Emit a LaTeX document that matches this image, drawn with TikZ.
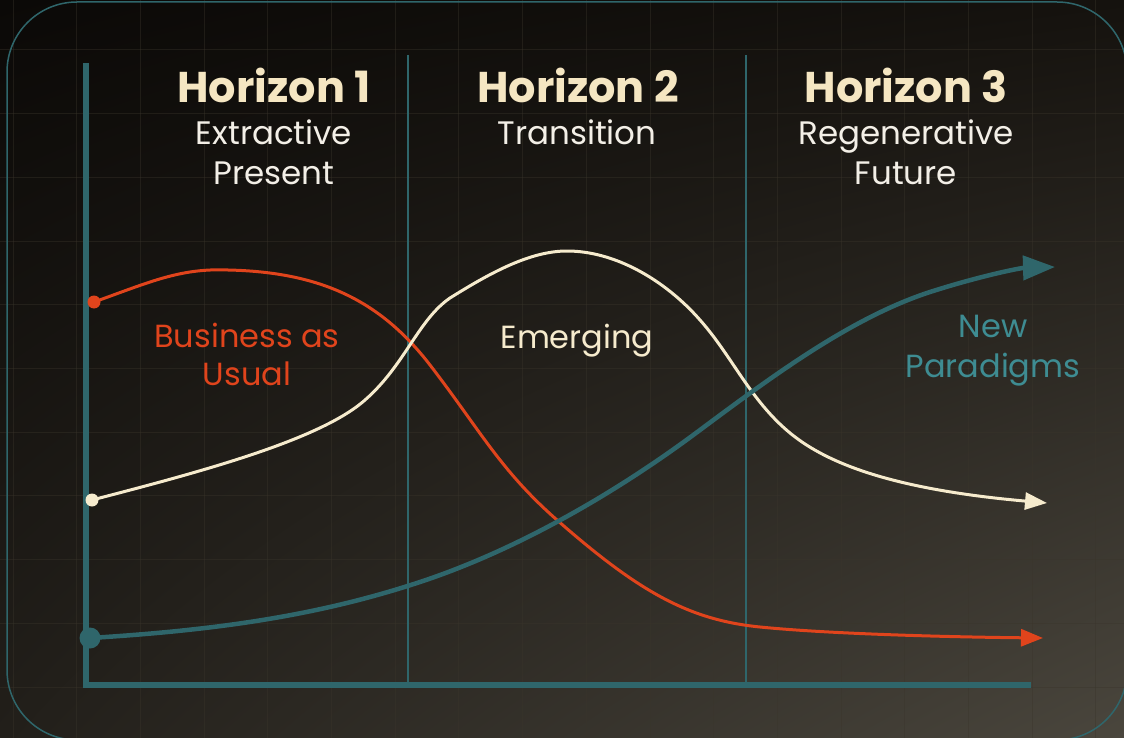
\documentclass[tikz,border=0pt]{standalone}
\usepackage{fontspec}
\setmainfont{Poppins}
\usetikzlibrary{arrows.meta,shadings}
\definecolor{bgUL}{HTML}{0B0907}
\definecolor{bgUR}{HTML}{15120E}
\definecolor{bgLL}{HTML}{221F1A}
\definecolor{bgLR}{HTML}{4A463D}
\definecolor{gridc}{HTML}{3A352B}
\definecolor{tealc}{HTML}{2F666B}
\definecolor{teallab}{HTML}{3E8C92}
\definecolor{redc}{HTML}{E0441C}
\definecolor{creamc}{HTML}{F6EBCD}
\definecolor{titlec}{HTML}{F5E6C2}
\definecolor{subc}{HTML}{F3EFE7}
\tikzset{
  gridline/.style={draw=gridc, line width=1pt, opacity=0.4},
  axisline/.style={draw=tealc, line width=6pt},
  divider/.style={draw=tealc, line width=1.5pt},
  title/.style={text=titlec, font=\fontsize{43}{50}\selectfont\bfseries, anchor=base, inner sep=0pt},
  subtitle/.style={text=subc, font=\fontsize{32.5}{38}\selectfont, anchor=base, inner sep=0pt},
  lab/.style={font=\fontsize{32}{38}\selectfont, anchor=base, inner sep=0pt},
  curve/.style={line cap=round, line join=round},
}
\begin{document}
\begin{tikzpicture}[x=1pt,y=-1pt]
\useasboundingbox (0,0) rectangle (1124,738);
\shade[upper left=bgUL, upper right=bgUR, lower left=bgLL, lower right=bgLR] (0,0) rectangle (1124,738);
% grid
\foreach \i in {0,...,17} \draw[gridline] ({13+63.7*\i},0) -- ({13+63.7*\i},738);
\foreach \j in {0,...,11} \draw[gridline] (0,{50+63.7*\j}) -- (1124,{50+63.7*\j});
% frame
\draw[tealc, line width=1.5pt, rounded corners=70pt] (7,2) rectangle (1127,740);
% dividers
\draw[divider] (408,55) -- (408,685);
\draw[divider] (746,55) -- (746,685);
% axes
\coordinate (ytop) at (86,63);
\coordinate (origin) at (86,685);
\coordinate (xend) at (1031,685);
\draw[axisline] (ytop) -- (86,688);
\draw[axisline] (83,685) -- (xend);
% headers
\node[title] (h1) at (274,103) {Horizon 1};
\node[subtitle] (s1a) at (274,145) {Extractive};
\node[subtitle] (s1b) at (274,185) {Present};
\node[title] (h2) at (578,103) {Horizon 2};
\node[subtitle] (s2a) at (577,145) {Transition};
\node[title] (h3) at (906,103) {Horizon 3};
\node[subtitle] (s3a) at (906,145) {Regenerative};
\node[subtitle] (s3b) at (906,185) {Future};
% curves
\coordinate (redstart) at (94,302);
\coordinate (creamstart) at (92,500);
\coordinate (tealstart) at (90,638);
\coordinate (redend) at (1043,638);
\coordinate (creamend) at (1047,503);
\coordinate (tealend) at (1055,267);
\draw[curve, draw=redc, line width=3pt, -{Triangle[length=22pt,width=17pt]}]
  (redstart) .. controls (150,282) and (180,268) .. (228,270)
  .. controls (320,272) and (380,300) .. (430,365)
  .. controls (480,430) and (500,470) .. (557,520)
  .. controls (640,593) and (690,620) .. (760,627)
  .. controls (830,634) and (950,637) .. (redend);
\draw[curve, draw=creamc, line width=3pt, -{Triangle[length=22pt,width=17pt]}]
  (creamstart) .. controls (200,472) and (320,440) .. (365,400)
  .. controls (405,365) and (418,320) .. (450,298)
  .. controls (490,273) and (530,251) .. (567,251)
  .. controls (615,251) and (665,280) .. (700,320)
  .. controls (732,356) and (750,400) .. (790,433)
  .. controls (830,466) and (900,490) .. (creamend);
\draw[curve, draw=tealc, line width=4.5pt, -{Triangle[length=32pt,width=24pt]}]
  (tealstart) .. controls (220,630) and (320,615) .. (420,582)
  .. controls (520,549) and (620,490) .. (700,430)
  .. controls (770,378) and (850,318) .. (930,292)
  .. controls (980,276) and (1020,268) .. (tealend);
% start dots
\fill[redc] (redstart) circle (6.5);
\fill[creamc] (creamstart) circle (6.5);
\fill[tealc] (tealstart) circle (10.5);
% labels
\node[lab, text=redc] (bau1) at (247,347) {Business as};
\node[lab, text=redc] (bau2) at (247,385) {Usual};
\node[lab, text=creamc] (em) at (577,348) {Emerging};
\node[lab, text=teallab] (np1) at (993,337) {New};
\node[lab, text=teallab] (np2) at (993,377) {Paradigms};
\end{tikzpicture}
\end{document}
